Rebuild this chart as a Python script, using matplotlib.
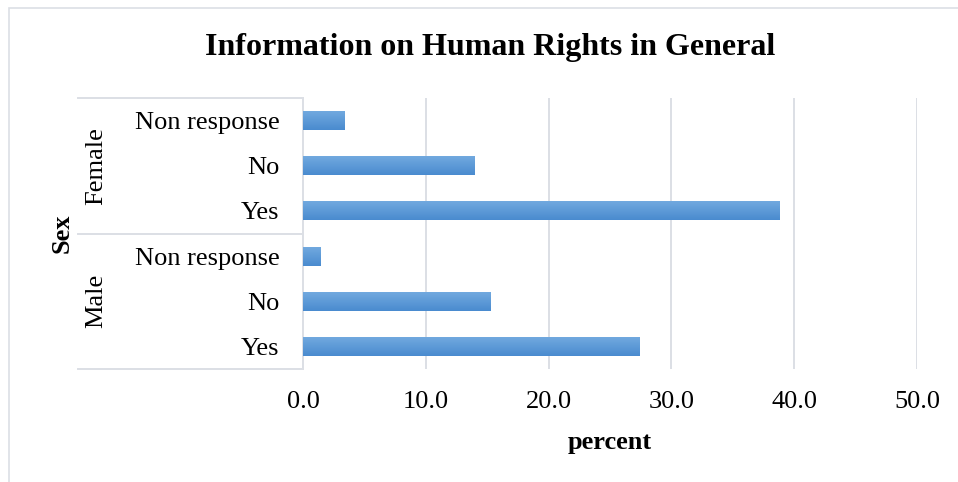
import numpy as np
import matplotlib.pyplot as plt
from matplotlib.patches import Rectangle

# data
categories = ['Yes', 'No', 'Non response', 'Yes', 'No', 'Non response']
groups = ['Male', 'Female']
values = [27.4, 15.3, 1.4, 38.8, 14.0, 3.4]
xticks = [0, 10, 20, 30, 40, 50]

plt.rcParams['font.family'] = ['Liberation Serif', 'DejaVu Serif']

fig = plt.figure(figsize=(9.58, 4.82), dpi=100)
ax = fig.add_axes([303 / 958, 1 - 369 / 482, 614 / 958, 271 / 482])

gray = '#dcdfe5'
fig.patches.append(Rectangle((9 / 958, -0.1), 1.2, 1 - 8 / 482 + 0.1,
                             transform=fig.transFigure, fill=False,
                             edgecolor=gray, lw=1.2))

ypos = np.arange(len(categories))
h = 0.42
grad = np.linspace(0, 1, 50).reshape(-1, 1)
cmap = plt.matplotlib.colors.LinearSegmentedColormap.from_list('b', ['#4a8bcf', '#71a9df'])
bars = ax.barh(ypos, values, height=h, color='#5b9bd5', zorder=2)
for b in bars:
    x0, y0 = b.get_x(), b.get_y()
    im = ax.imshow(grad, extent=[x0, x0 + b.get_width(), y0, y0 + h],
                   origin='lower', aspect='auto', cmap=cmap, zorder=3)
    im.set_clip_path(b)

ax.set_xlim(0, 50)
ax.set_ylim(-0.5, 5.5)
ax.set_xticks(xticks)
ax.set_xticklabels(['%.1f' % t for t in xticks], fontsize=19)
ax.set_yticks(ypos)
ax.set_yticklabels(categories, fontsize=19)
ax.tick_params(axis='x', length=0, pad=16)
ax.tick_params(axis='y', length=0, pad=17)
ax.grid(axis='x', color=gray, lw=1.4, zorder=0)
ax.set_axisbelow(True)
for s in ['top', 'right', 'bottom']:
    ax.spines[s].set_visible(False)
ax.spines['left'].set_color(gray)
ax.spines['left'].set_linewidth(1.4)

ax.set_xlabel('percent', fontsize=19, fontweight='bold', labelpad=13)

# grouped category frame
xl = -225 / 614
for yy in [0, 0.5, 1]:
    ax.plot([xl, 0], [yy, yy], transform=ax.transAxes, color=gray, lw=1.4, clip_on=False)
ax.text(-207 / 614, 0.75, groups[1], transform=ax.transAxes, rotation=90,
        ha='center', va='center', fontsize=19)
ax.text(-207 / 614, 0.25, groups[0], transform=ax.transAxes, rotation=90,
        ha='center', va='center', fontsize=19)
ax.text(-241 / 614, 0.5, 'Sex', transform=ax.transAxes, rotation=90,
        ha='center', va='center', fontsize=19, fontweight='bold')

fig.text(490 / 958, 1 - 47 / 482, 'Information on Human Rights in General',
         ha='center', va='center', fontsize=23, fontweight='bold')

fig.savefig('out.png', dpi=100)
